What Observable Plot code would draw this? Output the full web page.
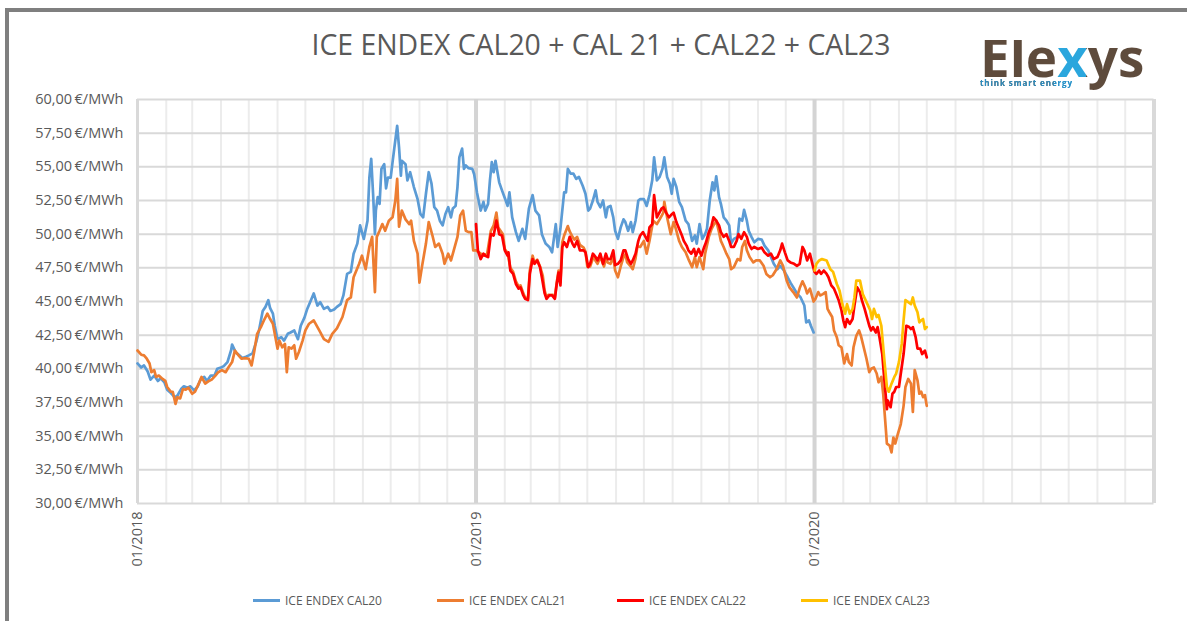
<!DOCTYPE html>
<html><head><meta charset="utf-8">
<script src="https://cdn.jsdelivr.net/npm/d3@7"></script>
<script src="https://cdn.jsdelivr.net/npm/@observablehq/plot@0.6"></script>
<style>
body{margin:0;background:#fff;width:1187px;height:621px;overflow:hidden;position:relative;font-family:"Open Sans",sans-serif;}
#frame{position:absolute;left:5px;top:8px;width:1200px;height:700px;border-left:4px solid #7f7f7f;border-top:4px solid #7f7f7f;}
#chart{position:absolute;left:0;top:0;}
#title{position:absolute;top:25px;left:601px;transform:translateX(-50%);white-space:nowrap;font-family:"Open Sans",sans-serif;font-size:28.4px;color:#595959;}
#logo{position:absolute;left:980px;top:40px;width:170px;white-space:pre;font-family:"Open Sans",sans-serif;font-weight:bold;font-size:8px;letter-spacing:0.9px;line-height:17.6px;color:transparent;
  background-image:linear-gradient(#2a8fc4,#2a8fc4),linear-gradient(to right,#5e4b3c 0,#5e4b3c 75px,#2aa6dd 75px,#2aa6dd 106px,#5e4b3c 106px);
  background-size:100px 30px,100% 100%;background-position:0 39px,0 0;background-repeat:no-repeat;-webkit-background-clip:text;background-clip:text;}
#logo::first-line{font-size:53px;line-height:34px;letter-spacing:0;}
.leg{position:absolute;top:592px;font-family:"Open Sans",sans-serif;font-size:12px;color:#595959;white-space:nowrap;display:flex;align-items:center;height:16px;}
.leg span.sw{display:inline-block;width:27px;height:3px;margin-right:5px;}
</style></head>
<body>
<div id="chart"></div>
<div id="frame"></div>
<div id="title">ICE ENDEX CAL20 + CAL 21 + CAL22 + CAL23</div>
<div id="logo">Elexys
think smart energy</div>
<div id="legend"></div>
<script>
const seriesNames = ["ICE ENDEX CAL20", "ICE ENDEX CAL21", "ICE ENDEX CAL22", "ICE ENDEX CAL23"];
const seriesColors = ["#5b9bd5", "#ed7d31", "#ff0000", "#ffc000"];
const yTicks = [30, 32.5, 35, 37.5, 40, 42.5, 45, 47.5, 50, 52.5, 55, 57.5, 60];
const xTickDates = ["2018-01-01", "2019-01-01", "2020-01-01"];
const xDomain = ["2018-01-01", "2021-01-01"];

const cal20 = [
["2018-01-01",40.4],["2018-01-05",40.1],["2018-01-08",40.25],["2018-01-12",39.8],["2018-01-15",39.2],["2018-01-19",39.5],["2018-01-23",39.1],["2018-01-26",39.3],["2018-01-30",39.0],
["2018-02-02",38.45],["2018-02-06",38.2],["2018-02-10",37.9],["2018-02-13",38.0],["2018-02-17",38.5],["2018-02-20",38.7],["2018-02-24",38.6],["2018-02-27",38.7],
["2018-03-03",38.4],["2018-03-07",38.7],["2018-03-10",39.2],["2018-03-14",39.4],["2018-03-17",39.1],["2018-03-21",39.5],["2018-03-25",39.5],["2018-03-28",40.0],
["2018-04-01",40.1],["2018-04-04",40.2],["2018-04-08",40.5],["2018-04-12",41.4],["2018-04-13",41.8],["2018-04-17",41.2],["2018-04-21",41.0],["2018-04-24",40.8],["2018-04-28",40.9],
["2018-05-01",41.0],["2018-05-05",41.15],["2018-05-09",42.0],["2018-05-12",42.85],["2018-05-16",44.3],["2018-05-19",44.6],["2018-05-22",45.1],["2018-05-24",44.5],["2018-05-27",44.1],["2018-05-29",43.2],
["2018-06-01",42.2],["2018-06-05",42.35],["2018-06-08",42.1],["2018-06-12",42.6],["2018-06-15",42.7],["2018-06-19",42.85],["2018-06-23",42.2],["2018-06-26",43.2],["2018-06-30",43.8],
["2018-07-03",44.45],["2018-07-07",45.1],["2018-07-10",45.6],["2018-07-14",44.7],["2018-07-17",44.95],["2018-07-21",44.45],["2018-07-25",44.6],["2018-07-28",44.3],
["2018-08-01",44.4],["2018-08-04",44.6],["2018-08-08",44.8],["2018-08-11",45.45],["2018-08-15",47.05],["2018-08-19",47.2],["2018-08-22",48.55],["2018-08-26",49.3],["2018-08-29",50.65],
["2018-09-02",49.65],["2018-09-06",51.0],["2018-09-08",54.2],["2018-09-10",55.6],["2018-09-12",53.0],["2018-09-14",50.0],["2018-09-15",51.75],["2018-09-17",52.75],["2018-09-19",52.25],["2018-09-21",54.85],["2018-09-24",55.2],["2018-09-26",53.4],["2018-09-28",54.2],
["2018-10-01",54.2],["2018-10-03",55.35],["2018-10-05",56.45],["2018-10-08",58.05],["2018-10-10",56.45],["2018-10-12",54.35],["2018-10-13",55.45],["2018-10-17",55.2],["2018-10-19",54.0],["2018-10-22",54.6],["2018-10-26",53.5],["2018-10-30",52.6],
["2018-11-02",51.5],["2018-11-05",51.25],["2018-11-08",53.0],["2018-11-11",54.6],["2018-11-14",53.75],["2018-11-17",52.0],["2018-11-20",51.75],["2018-11-23",51.0],["2018-11-26",50.65],["2018-11-29",51.5],
["2018-12-02",52.0],["2018-12-05",51.25],["2018-12-07",51.9],["2018-12-10",52.1],["2018-12-12",53.5],["2018-12-14",55.7],["2018-12-17",56.35],["2018-12-19",54.85],["2018-12-21",55.1],["2018-12-24",54.9],["2018-12-28",54.85],["2018-12-30",54.45],
["2019-01-02",53.1],["2019-01-06",51.75],["2019-01-09",52.4],["2019-01-11",51.75],["2019-01-14",52.25],["2019-01-16",54.0],["2019-01-18",55.35],["2019-01-20",54.6],["2019-01-22",55.45],["2019-01-26",53.85],["2019-01-29",53.25],
["2019-02-02",52.5],["2019-02-04",52.1],["2019-02-06",53.1],["2019-02-09",51.25],["2019-02-13",50.15],["2019-02-16",49.5],["2019-02-20",50.4],["2019-02-23",49.65],["2019-02-27",51.9],
["2019-03-03",52.9],["2019-03-06",51.75],["2019-03-10",51.4],["2019-03-13",50.0],["2019-03-17",49.3],["2019-03-21",49.05],["2019-03-24",48.65],["2019-03-28",50.75],["2019-03-30",49.05],
["2019-04-02",50.4],["2019-04-06",53.1],["2019-04-08",53.1],["2019-04-10",54.85],["2019-04-13",54.5],["2019-04-16",54.5],["2019-04-19",54.1],["2019-04-22",54.25],["2019-04-26",53.6],["2019-04-29",53.0],
["2019-05-02",51.75],["2019-05-04",51.9],["2019-05-07",52.5],["2019-05-10",53.25],["2019-05-12",52.4],["2019-05-15",52.0],["2019-05-18",52.5],["2019-05-21",51.25],["2019-05-23",52.0],["2019-05-26",52.1],["2019-05-29",51.25],["2019-05-31",50.25],
["2019-06-03",49.65],["2019-06-06",50.5],["2019-06-09",51.1],["2019-06-11",50.9],["2019-06-14",50.25],["2019-06-17",50.9],["2019-06-19",50.15],["2019-06-22",51.0],["2019-06-25",52.5],["2019-06-27",52.6],
["2019-07-01",52.6],["2019-07-04",52.1],["2019-07-07",52.9],["2019-07-10",54.0],["2019-07-12",55.7],["2019-07-15",54.0],["2019-07-18",54.25],["2019-07-21",54.85],["2019-07-23",55.7],["2019-07-26",54.25],["2019-07-29",53.75],["2019-07-31",53.0],
["2019-08-02",54.1],["2019-08-05",53.5],["2019-08-08",52.4],["2019-08-11",52.0],["2019-08-15",51.0],["2019-08-18",50.75],["2019-08-22",49.5],["2019-08-25",49.9],["2019-08-27",49.3],["2019-08-30",50.75],
["2019-09-02",49.65],["2019-09-05",50.0],["2019-09-07",50.4],["2019-09-10",52.5],["2019-09-13",53.85],["2019-09-15",53.25],["2019-09-17",54.3],["2019-09-20",52.75],["2019-09-22",52.25],["2019-09-25",51.25],["2019-09-28",51.0],
["2019-10-01",50.65],["2019-10-03",49.3],["2019-10-06",49.65],["2019-10-10",49.8],["2019-10-12",51.15],["2019-10-15",51.0],["2019-10-17",51.8],["2019-10-20",51.0],["2019-10-22",50.25],["2019-10-25",49.8],["2019-10-28",49.4],
["2019-11-01",49.65],["2019-11-05",49.6],["2019-11-08",49.15],["2019-11-12",48.8],["2019-11-15",48.3],["2019-11-18",47.8],["2019-11-22",47.4],["2019-11-25",47.65],["2019-11-29",47.3],
["2019-12-03",46.8],["2019-12-06",46.4],["2019-12-10",45.95],["2019-12-13",45.6],["2019-12-17",45.3],["2019-12-21",44.7],["2019-12-23",43.45],["2019-12-26",43.6],["2019-12-28",43.2],["2019-12-31",42.7]
];

const cal21 = [
["2018-01-01",41.36],["2018-01-05",41.05],["2018-01-08",41.0],["2018-01-11",40.75],["2018-01-14",40.4],["2018-01-16",39.75],["2018-01-19",39.9],["2018-01-21",39.4],["2018-01-24",39.5],["2018-01-28",39.25],["2018-01-31",39.1],
["2018-02-02",38.65],["2018-02-06",38.3],["2018-02-08",38.3],["2018-02-11",37.4],["2018-02-13",37.9],["2018-02-16",37.8],["2018-02-19",38.5],["2018-02-22",38.45],["2018-02-25",38.6],
["2018-03-01",38.15],["2018-03-04",38.3],["2018-03-08",38.9],["2018-03-11",39.4],["2018-03-15",38.9],["2018-03-19",39.1],["2018-03-22",39.2],["2018-03-26",39.5],["2018-03-29",39.75],
["2018-04-02",39.9],["2018-04-06",39.75],["2018-04-09",40.1],["2018-04-13",40.5],["2018-04-16",41.35],["2018-04-20",41.0],["2018-04-23",40.75],["2018-04-27",40.8],
["2018-05-01",40.75],["2018-05-04",40.25],["2018-05-07",41.35],["2018-05-10",42.6],["2018-05-14",43.1],["2018-05-18",43.7],["2018-05-21",44.1],["2018-05-24",43.7],["2018-05-27",43.35],["2018-05-29",42.6],
["2018-06-01",41.5],["2018-06-03",42.1],["2018-06-06",41.6],["2018-06-09",41.85],["2018-06-11",39.75],["2018-06-13",41.6],["2018-06-16",41.5],["2018-06-19",41.75],["2018-06-21",40.75],["2018-06-24",41.25],["2018-06-28",42.1],
["2018-07-01",42.85],["2018-07-05",43.35],["2018-07-10",43.6],["2018-07-16",42.85],["2018-07-21",42.2],["2018-07-26",42.0],["2018-07-30",42.6],
["2018-08-04",43.0],["2018-08-10",43.85],["2018-08-15",45.1],["2018-08-19",45.3],["2018-08-22",46.8],["2018-08-28",47.8],["2018-08-31",48.4],
["2018-09-04",47.4],["2018-09-08",49.05],["2018-09-11",49.8],["2018-09-14",45.7],["2018-09-16",49.8],["2018-09-19",50.25],["2018-09-22",50.75],["2018-09-25",50.25],["2018-09-29",51.0],
["2018-10-03",51.25],["2018-10-06",52.5],["2018-10-08",54.1],["2018-10-10",50.55],["2018-10-13",51.75],["2018-10-17",51.1],["2018-10-21",50.75],["2018-10-23",51.0],["2018-10-26",49.5],["2018-10-30",48.55],
["2018-11-01",46.4],["2018-11-04",47.7],["2018-11-08",49.3],["2018-11-11",50.9],["2018-11-15",49.9],["2018-11-18",49.05],["2018-11-22",49.3],["2018-11-26",48.55],["2018-11-28",47.8],
["2018-12-02",48.55],["2018-12-05",48.05],["2018-12-08",48.8],["2018-12-12",49.8],["2018-12-15",51.4],["2018-12-18",51.75],["2018-12-21",50.25],["2018-12-24",50.15],["2018-12-27",50.15],["2018-12-29",48.8],
["2019-01-01",48.8],["2019-01-03",48.7],["2019-01-06",48.55],["2019-01-09",48.4],["2019-01-13",48.55],["2019-01-17",50.25],["2019-01-20",50.65],["2019-01-23",51.6],["2019-01-25",50.5],["2019-01-30",50.0],
["2019-02-01",48.9],["2019-02-04",48.6],["2019-02-07",47.5],["2019-02-10",47.2],["2019-02-13",46.5],["2019-02-16",46.1],["2019-02-18",46.2],["2019-02-21",45.6],["2019-02-23",45.3],["2019-02-26",45.2],["2019-02-28",47.3],
["2019-03-03",48.4],["2019-03-05",47.9],["2019-03-08",48.1],["2019-03-11",47.6],["2019-03-14",46.9],["2019-03-16",45.8],["2019-03-18",45.3],["2019-03-20",45.5],["2019-03-25",45.5],["2019-03-27",45.3],["2019-03-29",46.4],["2019-03-31",47.3],
["2019-04-02",46.4],["2019-04-04",49.4],["2019-04-06",49.9],["2019-04-10",50.6],["2019-04-12",50.2],["2019-04-15",49.8],["2019-04-17",49.6],["2019-04-20",49.8],["2019-04-23",49.2],["2019-04-27",49.0],["2019-04-29",48.7],
["2019-05-01",47.6],["2019-05-04",47.6],["2019-05-08",48.4],["2019-05-10",48.0],["2019-05-12",47.8],["2019-05-15",48.3],["2019-05-19",47.6],["2019-05-21",48.2],["2019-05-23",47.9],["2019-05-26",47.8],["2019-05-29",48.3],["2019-05-31",47.3],
["2019-06-03",46.8],["2019-06-06",47.6],["2019-06-09",48.3],["2019-06-11",48.5],["2019-06-13",47.9],["2019-06-17",47.6],["2019-06-19",47.4],["2019-06-22",48.2],["2019-06-24",49.1],["2019-06-27",49.05],
["2019-07-01",49.5],["2019-07-04",48.55],["2019-07-07",49.5],["2019-07-11",51.0],["2019-07-15",50.75],["2019-07-18",51.1],["2019-07-22",51.6],["2019-07-23",52.4],["2019-07-26",51.25],["2019-07-30",50.0],
["2019-08-02",50.9],["2019-08-04",50.5],["2019-08-08",49.5],["2019-08-11",49.05],["2019-08-15",48.65],["2019-08-18",48.15],["2019-08-22",47.55],["2019-08-25",48.3],["2019-08-27",47.55],["2019-08-30",48.3],
["2019-09-03",47.4],["2019-09-05",48.55],["2019-09-09",49.8],["2019-09-12",50.4],["2019-09-14",50.65],["2019-09-17",51.0],["2019-09-20",50.15],["2019-09-22",49.5],["2019-09-25",49.05],["2019-09-28",48.55],
["2019-10-01",48.15],["2019-10-03",47.4],["2019-10-06",47.55],["2019-10-10",48.15],["2019-10-13",48.05],["2019-10-15",49.05],["2019-10-18",49.5],["2019-10-20",48.8],["2019-10-23",48.3],["2019-10-27",47.9],["2019-10-30",48.05],
["2019-11-03",48.05],["2019-11-07",47.65],["2019-11-10",47.05],["2019-11-14",46.8],["2019-11-17",46.95],["2019-11-21",47.4],["2019-11-25",48.05],["2019-11-28",47.65],
["2019-12-02",46.55],["2019-12-05",46.05],["2019-12-09",45.7],["2019-12-13",45.3],["2019-12-16",46.0],["2019-12-19",46.5],["2019-12-22",46.05],["2019-12-24",45.6],["2019-12-27",45.95],["2019-12-31",45.0],
["2020-01-02",45.2],["2020-01-05",45.7],["2020-01-07",45.45],["2020-01-10",45.55],["2020-01-13",45.7],["2020-01-15",44.45],["2020-01-17",44.2],["2020-01-20",43.85],["2020-01-22",42.85],["2020-01-25",42.35],["2020-01-27",41.75],["2020-01-30",41.6],
["2020-02-02",40.4],["2020-02-05",41.1],["2020-02-07",40.5],["2020-02-10",40.25],["2020-02-12",41.6],["2020-02-15",42.45],["2020-02-18",42.85],["2020-02-20",42.45],["2020-02-23",41.6],["2020-02-26",40.75],["2020-02-29",39.75],
["2020-03-02",40.0],["2020-03-05",40.1],["2020-03-08",39.65],["2020-03-10",39.0],["2020-03-13",39.4],["2020-03-15",38.15],["2020-03-18",35.4],["2020-03-19",34.45],["2020-03-22",34.3],["2020-03-24",33.8],["2020-03-26",34.9],["2020-03-28",34.45],["2020-03-31",35.2],
["2020-04-03",35.9],["2020-04-06",37.25],["2020-04-08",38.65],["2020-04-11",39.25],["2020-04-14",38.9],["2020-04-16",36.8],["2020-04-18",39.9],["2020-04-21",39.15],["2020-04-23",38.15],["2020-04-25",38.3],["2020-04-27",37.9],["2020-04-29",38.05],["2020-05-01",37.25]
];

const cal22 = [
["2019-01-01",50.75],["2019-01-03",48.8],["2019-01-06",48.15],["2019-01-09",48.55],["2019-01-11",48.4],["2019-01-14",48.3],["2019-01-17",50.0],["2019-01-20",49.9],["2019-01-23",51.0],["2019-01-26",50.0],["2019-01-29",49.9],
["2019-02-01",48.8],["2019-02-04",48.4],["2019-02-05",48.65],["2019-02-07",47.3],["2019-02-10",47.05],["2019-02-13",46.3],["2019-02-16",45.95],["2019-02-18",46.05],["2019-02-21",45.45],["2019-02-23",45.2],["2019-02-26",45.1],["2019-02-28",47.05],
["2019-03-03",48.15],["2019-03-05",47.8],["2019-03-08",48.05],["2019-03-11",47.55],["2019-03-13",46.8],["2019-03-16",45.6],["2019-03-18",45.2],["2019-03-21",45.45],["2019-03-24",45.45],["2019-03-27",45.2],["2019-03-29",46.3],["2019-03-31",47.15],
["2019-04-02",46.2],["2019-04-04",49.05],["2019-04-06",49.4],["2019-04-09",49.05],["2019-04-12",49.8],["2019-04-15",49.3],["2019-04-17",49.05],["2019-04-20",49.5],["2019-04-23",48.8],["2019-04-27",48.8],["2019-04-29",48.65],
["2019-05-02",47.55],["2019-05-04",47.8],["2019-05-07",48.55],["2019-05-10",48.3],["2019-05-12",48.05],["2019-05-15",48.55],["2019-05-18",47.8],["2019-05-21",48.55],["2019-05-23",48.15],["2019-05-26",48.15],["2019-05-29",48.8],["2019-05-31",47.7],
["2019-06-03",47.8],["2019-06-06",48.05],["2019-06-09",48.8],["2019-06-11",48.8],["2019-06-14",48.15],["2019-06-17",47.8],["2019-06-19",48.05],["2019-06-22",48.55],["2019-06-25",49.5],["2019-06-27",49.9],["2019-06-30",50.15],
["2019-07-05",49.5],["2019-07-07",50.5],["2019-07-10",50.75],["2019-07-12",52.9],["2019-07-15",51.25],["2019-07-17",51.5],["2019-07-20",51.9],["2019-07-22",52.0],["2019-07-25",51.6],["2019-07-28",51.25],["2019-07-30",51.4],
["2019-08-02",51.6],["2019-08-05",50.9],["2019-08-08",50.4],["2019-08-11",49.9],["2019-08-13",49.5],["2019-08-16",49.15],["2019-08-18",48.8],["2019-08-21",48.55],["2019-08-24",48.9],["2019-08-26",48.4],["2019-08-29",48.9],
["2019-09-01",48.4],["2019-09-04",49.05],["2019-09-06",49.4],["2019-09-09",50.15],["2019-09-12",50.65],["2019-09-14",51.25],["2019-09-17",51.0],["2019-09-20",50.65],["2019-09-22",50.15],["2019-09-25",49.8],["2019-09-28",50.0],
["2019-10-01",49.5],["2019-10-03",49.05],["2019-10-06",49.05],["2019-10-09",49.5],["2019-10-11",50.0],["2019-10-14",49.65],["2019-10-17",50.15],["2019-10-20",49.8],["2019-10-22",49.3],["2019-10-25",48.9],["2019-10-28",49.05],
["2019-11-01",48.9],["2019-11-05",49.0],["2019-11-08",48.65],["2019-11-12",48.4],["2019-11-15",48.55],["2019-11-18",48.15],["2019-11-22",48.3],["2019-11-25",48.8],["2019-11-27",49.3],["2019-11-30",48.65],
["2019-12-03",48.05],["2019-12-06",47.9],["2019-12-10",47.8],["2019-12-13",47.65],["2019-12-16",47.8],["2019-12-19",49.05],["2019-12-21",48.8],["2019-12-24",48.05],["2019-12-27",48.55],["2019-12-30",47.7],
["2020-01-01",47.2],["2020-01-03",47.05],["2020-01-06",47.3],["2020-01-08",47.05],["2020-01-11",47.3],["2020-01-14",47.05],["2020-01-16",46.8],["2020-01-19",46.2],["2020-01-22",45.95],["2020-01-25",45.45],["2020-01-27",45.1],["2020-01-30",44.35],
["2020-02-01",43.6],["2020-02-03",43.1],["2020-02-05",43.7],["2020-02-08",43.35],["2020-02-11",43.7],["2020-02-13",44.7],["2020-02-16",46.05],["2020-02-19",45.7],["2020-02-21",45.1],["2020-02-24",44.45],["2020-02-26",43.95],["2020-02-29",43.2],
["2020-03-02",42.85],["2020-03-04",43.1],["2020-03-07",42.7],["2020-03-09",43.1],["2020-03-11",42.35],["2020-03-14",41.1],["2020-03-16",39.4],["2020-03-19",37.0],["2020-03-20",37.65],["2020-03-23",37.15],["2020-03-25",38.15],["2020-03-27",38.3],["2020-03-29",38.65],
["2020-04-01",38.65],["2020-04-03",39.65],["2020-04-06",41.1],["2020-04-09",43.2],["2020-04-12",43.1],["2020-04-14",42.95],["2020-04-16",43.1],["2020-04-19",42.35],["2020-04-21",41.5],["2020-04-24",41.5],["2020-04-26",41.1],["2020-04-29",41.35],["2020-05-01",40.85]
];

const cal23 = [
["2020-01-01",47.3],["2020-01-03",47.8],["2020-01-06",48.05],["2020-01-09",48.15],["2020-01-14",48.05],["2020-01-18",47.4],["2020-01-21",47.2],["2020-01-25",46.3],["2020-01-28",45.8],["2020-01-31",44.8],
["2020-02-03",44.1],["2020-02-05",44.8],["2020-02-08",44.1],["2020-02-11",44.45],["2020-02-13",45.3],["2020-02-15",46.55],["2020-02-19",46.55],["2020-02-22",45.55],["2020-02-26",44.95],
["2020-03-01",44.35],["2020-03-03",43.7],["2020-03-05",44.45],["2020-03-08",43.85],["2020-03-10",44.0],["2020-03-13",43.2],["2020-03-16",40.85],["2020-03-19",38.65],["2020-03-21",38.3],["2020-03-24",38.9],["2020-03-27",39.4],["2020-03-29",39.65],
["2020-04-01",40.5],["2020-04-04",41.85],["2020-04-06",43.6],["2020-04-08",45.1],["2020-04-11",44.95],["2020-04-14",44.8],["2020-04-16",45.3],["2020-04-18",44.7],["2020-04-21",44.2],["2020-04-23",43.45],["2020-04-25",43.6],["2020-04-27",43.7],["2020-04-29",42.95],["2020-05-01",43.1]
];

const allSeries = [cal20, cal21, cal22, cal23];
const rows = allSeries.flatMap((s, i) => s.map(([d, v]) => ({date: new Date(d + "T00:00:00Z"), value: v, series: seriesNames[i]})));

const d0 = new Date(xDomain[0] + "T00:00:00Z"), d1 = new Date(xDomain[1] + "T00:00:00Z");
const months = d3.utcMonth.range(d0, d1);
const yearLines = xTickDates.slice(1).map(d => new Date(d + "T00:00:00Z"));
const fmtY = v => v.toFixed(2).replace(".", ",") + "\u2009€/MWh";

const chart = Plot.plot({
  width: 1187, height: 621,
  marginLeft: 137, marginRight: 33.5, marginTop: 99, marginBottom: 118,
  style: {fontFamily: "'Open Sans', sans-serif", fontSize: "14px", color: "#595959", background: "transparent"},
  x: {type: "utc", domain: [d0, d1]},
  y: {domain: [30, 60]},
  color: {domain: seriesNames, range: seriesColors},
  marks: [
    Plot.ruleX(months, {stroke: "#ececec", strokeWidth: 2}),
    Plot.ruleY(yTicks, {stroke: "#d9d9d9", strokeWidth: 2}),
    Plot.ruleX(yearLines, {stroke: "#d4d4d4", strokeWidth: 4}),
    Plot.ruleX([d0], {stroke: "#d9d9d9", strokeWidth: 3}),
    Plot.ruleX([d1], {stroke: "#d9d9d9", strokeWidth: 4}),
    Plot.axisY({ticks: yTicks, tickFormat: fmtY, tickSize: 0, tickPadding: 14, fontSize: 14.5, label: null}),
    Plot.axisX({ticks: xTickDates.map(d => new Date(d + "T00:00:00Z")), tickFormat: d3.utcFormat("%m/%Y"), tickRotate: -90, tickSize: 0, tickPadding: 8, fontSize: 14.5, label: null}),
    Plot.line(rows, {x: "date", y: "value", z: "series", stroke: "series", strokeWidth: 2.7, strokeLinejoin: "round"})
  ]
});
document.getElementById("chart").appendChild(chart);

const legendX = [253, 437, 617, 801];
const leg = document.getElementById("legend");
seriesNames.forEach((n, i) => {
  const el = document.createElement("div");
  el.className = "leg";
  el.style.left = legendX[i] + "px";
  el.innerHTML = `<span class="sw" style="background:${seriesColors[i]}"></span>${n}`;
  leg.appendChild(el);
});
</script>
</body></html>
